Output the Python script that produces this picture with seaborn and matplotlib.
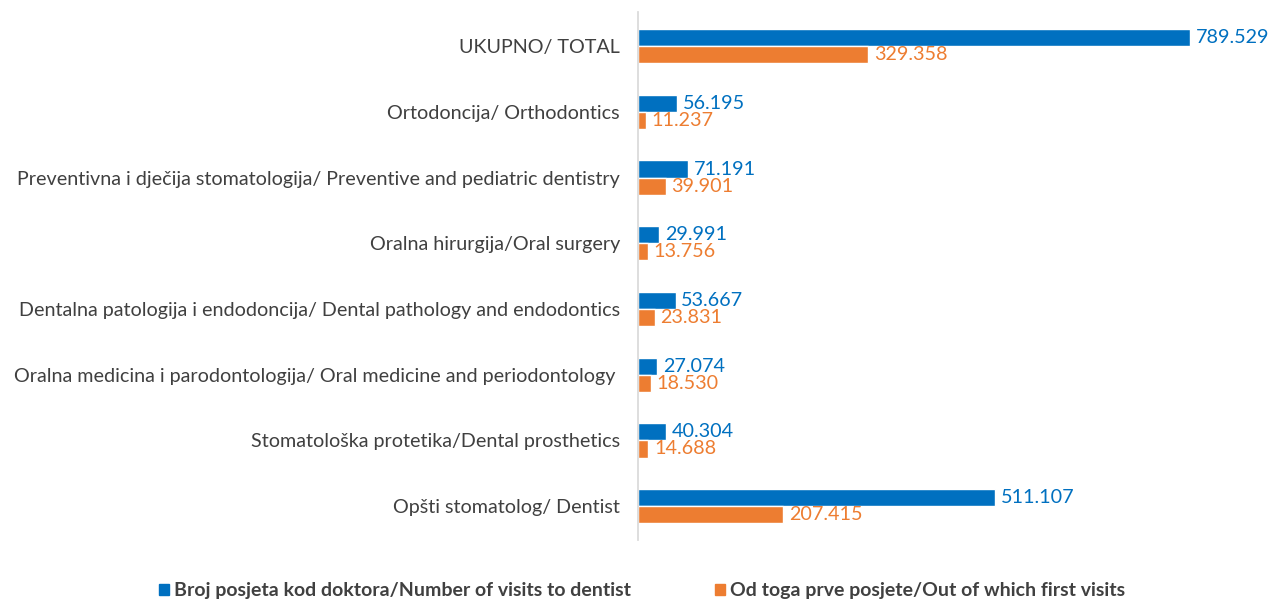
import seaborn as sns
import pandas as pd
import matplotlib.pyplot as plt

# data (top to bottom as shown)
categories = [
    'UKUPNO/ TOTAL',
    'Ortodoncija/ Orthodontics',
    'Preventivna i dječija stomatologija/ Preventive and pediatric dentistry',
    'Oralna hirurgija/Oral surgery',
    'Dentalna patologija i endodoncija/ Dental pathology and endodontics',
    'Oralna medicina i parodontologija/ Oral medicine and periodontology ',
    'Stomatološka protetika/Dental prosthetics',
    'Opšti stomatolog/ Dentist',
]
visits = [789529, 56195, 71191, 29991, 53667, 27074, 40304, 511107]
first_visits = [329358, 11237, 39901, 13756, 23831, 18530, 14688, 207415]
series = ['Broj posjeta kod doktora/Number of visits to dentist',
          'Od toga prve posjete/Out of which first visits']
colors = ['#0070C0', '#ED7D31']

df = pd.DataFrame({
    'category': categories * 2,
    'value': visits + first_visits,
    'series': [series[0]] * len(categories) + [series[1]] * len(categories),
})

sns.set_theme(style='white')
plt.rcParams['font.family'] = ['Lato', 'DejaVu Sans']

fig = plt.figure(figsize=(12.84, 5.99), dpi=100)
ax = fig.add_axes([0.497, 0.098, 0.49, 0.882])

sns.barplot(data=df, y='category', x='value', hue='series', orient='h',
            palette=colors, width=0.52, ax=ax, saturation=1, legend=False)

ax.set_xlim(0, 900000)
ax.set_ylim(7.52, -0.52)
ax.set_xlabel('')
ax.set_ylabel('')
ax.set_xticks([])
ax.tick_params(axis='y', length=0, labelsize=14.2, colors='#404040', pad=13)
for s in ['top', 'right', 'bottom']:
    ax.spines[s].set_visible(False)
ax.spines['left'].set_color('#D9D9D9')

def fmt(v):
    return f'{v:,}'.replace(',', '.')

for cont, col in zip(ax.containers, colors):
    ax.bar_label(cont, labels=[fmt(int(v)) for v in cont.datavalues],
                 padding=4, color=col, fontsize=14.2)

handles = [plt.Rectangle((0, 0), 1, 1, color=c) for c in colors]
fig.legend(handles, series, loc='lower center', ncol=2, frameon=False,
           bbox_to_anchor=(0.5, -0.03), prop={'weight': 'bold', 'size': 14},
           handlelength=0.55, handleheight=0.55, handletextpad=0.25,
           columnspacing=4.3, labelcolor='#404040')

fig.savefig('out.png', dpi=100)
